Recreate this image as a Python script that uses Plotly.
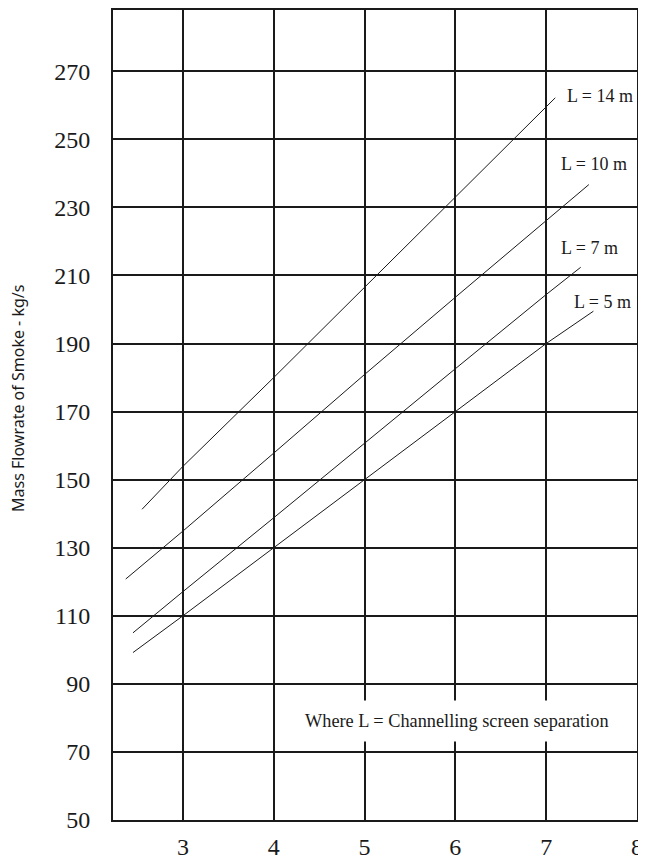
import plotly.graph_objects as go

# Data (x: unlabeled axis, y: mass flowrate kg/s)
series_names = ["L = 14 m", "L = 10 m", "L = 7 m", "L = 5 m"]
x_l14 = [2.55, 3, 4, 5, 6, 7.1]
y_l14 = [141.3, 153.9, 180, 206.5, 233, 262.2]
x_l10 = [2.37, 3, 4, 5, 6, 7, 7.47]
y_l10 = [120.8, 134.9, 157.8, 180.9, 203.6, 226.2, 236.7]
x_l7 = [2.45, 3, 4, 5, 6, 7, 7.38]
y_l7 = [105, 117.1, 138.8, 160.8, 182.6, 204.4, 212.4]
x_l5 = [2.45, 3, 4, 5, 6, 7, 7.52]
y_l5 = [99.2, 110, 130, 150, 170, 190, 199.5]

label_x = [7.21, 7.14, 7.14, 7.28]
label_y = [262.6, 242.7, 218.1, 202.1]

x_ticks = [3, 4, 5, 6, 7, 8]
y_ticks = [50, 70, 90, 110, 130, 150, 170, 190, 210, 230, 250, 270]

font_family = "Liberation Serif"
ink = "#1a1a1a"

fig = go.Figure()
for xs, ys, name in zip([x_l14, x_l10, x_l7, x_l5], [y_l14, y_l10, y_l7, y_l5], series_names):
    fig.add_trace(go.Scatter(x=xs, y=ys, mode="lines", name=name,
                             line=dict(color=ink, width=1), showlegend=False))

for lx, ly, name in zip(label_x, label_y, series_names):
    fig.add_annotation(x=lx, y=ly, text=name, showarrow=False, xanchor="left",
                       yanchor="middle", font=dict(family=font_family, size=18, color=ink))

fig.add_annotation(x=6.02, y=79, text="Where L = Channelling screen separation",
                   showarrow=False, xanchor="center", yanchor="middle",
                   bgcolor="white", borderpad=10,
                   font=dict(family=font_family, size=18.3, color=ink))

fig.add_annotation(xref="paper", yref="paper", x=-0.181, y=0.52,
                   text="Mass Flowrate of Smoke - kg/s", textangle=-90,
                   showarrow=False, xanchor="center", yanchor="middle",
                   font=dict(family="Noto Sans", size=16, color=ink))

fig.update_xaxes(range=[2.23, 8.0], tickvals=x_ticks, ticks="",
                 showgrid=True, gridcolor=ink, gridwidth=1.5,
                 showline=True, linecolor=ink, linewidth=2, mirror=True,
                 zeroline=False, ticklabelstandoff=4, automargin=False,
                 tickfont=dict(family=font_family, size=24, color=ink))
fig.update_yaxes(range=[50, 288], tickvals=y_ticks, ticks="",
                 showgrid=True, gridcolor=ink, gridwidth=1.5,
                 showline=True, linecolor=ink, linewidth=2, mirror=True,
                 zeroline=False, ticklabelstandoff=16, automargin=False,
                 tickfont=dict(family=font_family, size=24, color=ink))

fig.update_layout(width=638, height=856,
                  margin=dict(l=105, r=9, t=2, b=44),
                  paper_bgcolor="white", plot_bgcolor="white",
                  showlegend=False)

fig.write_html("out.html")
